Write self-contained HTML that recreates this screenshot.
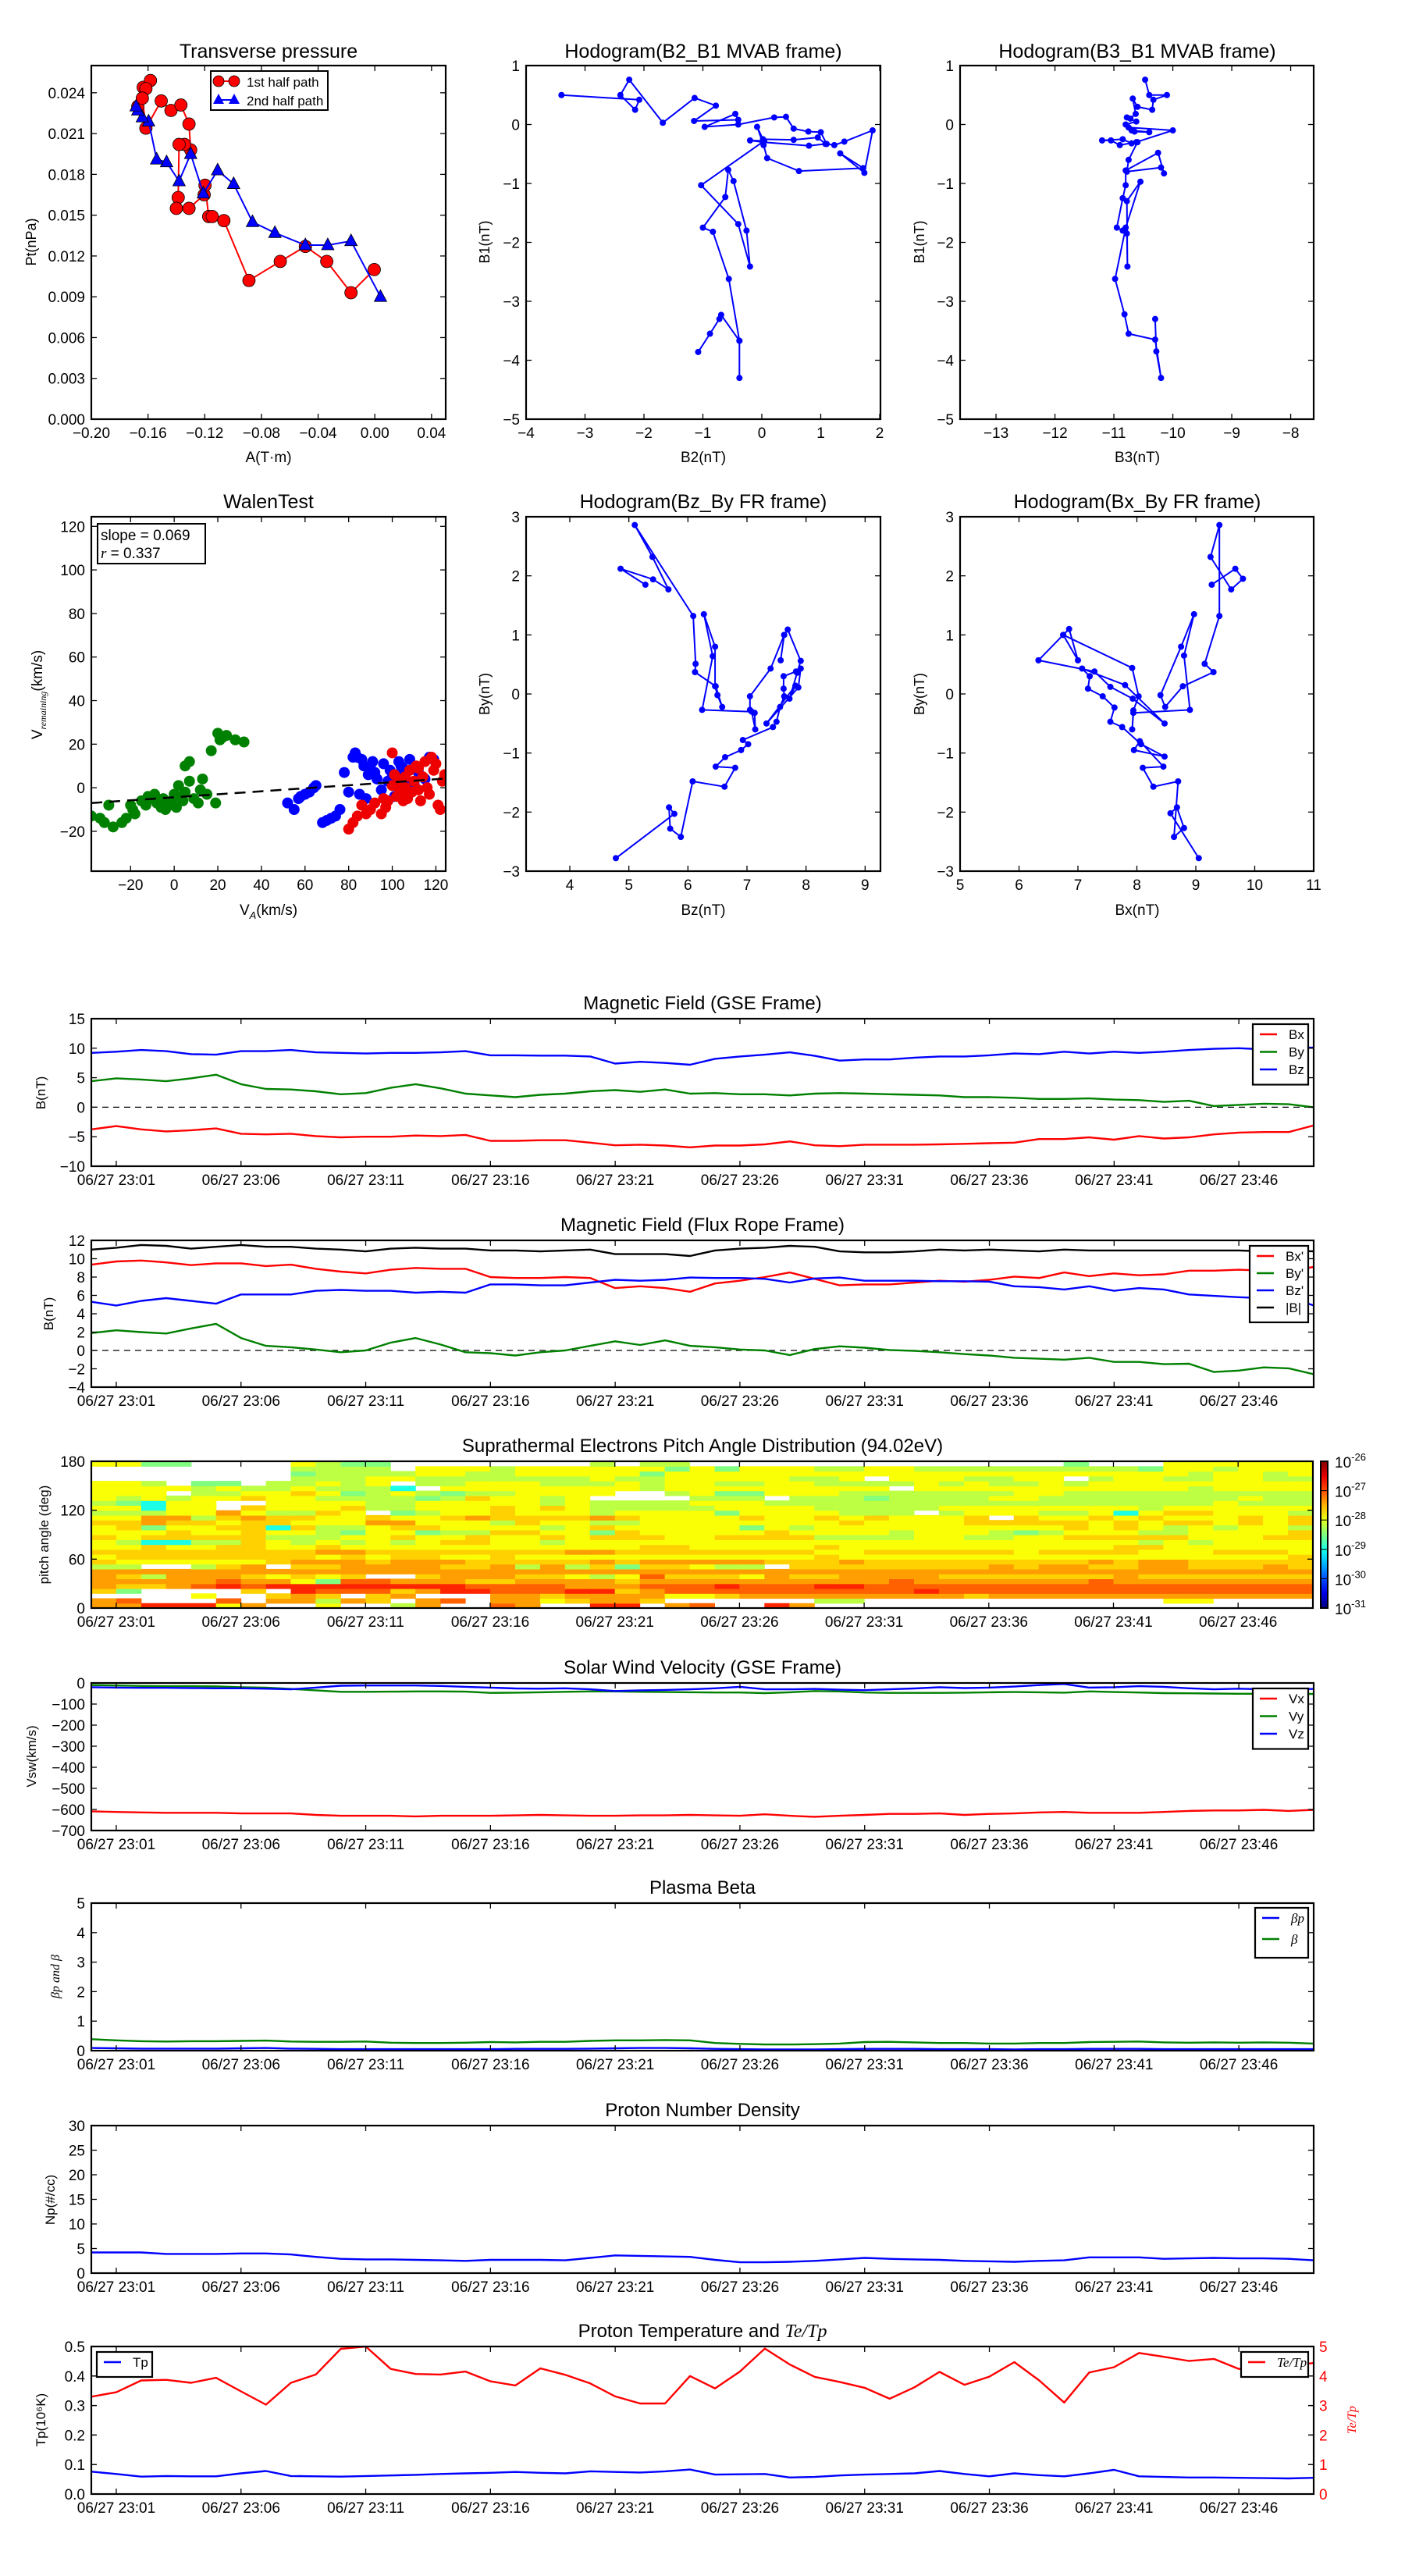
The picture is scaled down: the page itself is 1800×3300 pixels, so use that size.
<!DOCTYPE html>
<html><head><meta charset="utf-8"><title>Flux rope analysis</title>
<style>
html,body{margin:0;padding:0;background:#fff;}
svg{display:block;font-family:"Liberation Sans",sans-serif;}
</style></head>
<body>
<svg id="fig" xmlns="http://www.w3.org/2000/svg" width="1800" height="3300" viewBox="0 0 1800 3300">
<rect x="0" y="0" width="1800" height="3300" fill="#fff"/>
</svg>
<script>
// ---------------- DATA ----------------
// Transverse pressure
const ptRedA = [-0.1672,-0.1634,-0.1583,-0.1615,-0.1640,-0.1615,-0.1507,-0.1438,-0.1368,-0.1311,-0.1299,-0.1343,-0.1381,-0.1387,-0.1400,-0.1311,-0.1204,-0.1198,-0.1172,-0.1147,-0.1065,-0.0888,-0.0667,-0.0490,-0.0339,-0.0168,-0.0004];
const ptRedP = [0.0230,0.0244,0.0249,0.0243,0.0236,0.0214,0.0234,0.0227,0.0231,0.0217,0.0198,0.0202,0.0202,0.0163,0.0155,0.0155,0.0165,0.0172,0.0149,0.0149,0.0146,0.0102,0.0116,0.0127,0.0116,0.0093,0.0110];
const ptBlueA = [0.0040,-0.0168,-0.0332,-0.0490,-0.0705,-0.0863,-0.0996,-0.1109,-0.1210,-0.1299,-0.1381,-0.1469,-0.1539,-0.1596,-0.1640,-0.1672,-0.1684];
const ptBlueP = [0.0090,0.0131,0.0128,0.0128,0.0137,0.0145,0.0173,0.0183,0.0166,0.0195,0.0175,0.0189,0.0191,0.0219,0.0222,0.0227,0.0230];
// Hodogram B2-B1
const hB2 = [-3.4,-2.08,-2.15,-2.4,-2.25,-1.68,-1.14,-0.78,-1.15,-0.4,-0.45,-0.97,-0.4,0.21,0.41,0.54,0.79,1.0,1.1,1.23,1.4,1.88,1.74,1.33,1.72,0.63,0.09,0.03,-0.08,0.02,0.54,0.95,1.08,0.8,0.02,-0.2,0.04,-1.03,-0.4,-0.2,-0.26,-0.48,-0.57,-0.62,-1.0,-0.83,-0.56,-0.38,-0.38,-0.38,-0.69,-0.72,-0.88,-1.08];
const hB1 = [0.5,0.42,0.25,0.5,0.76,0.03,0.45,0.32,0.06,0.08,0.18,-0.04,0.0,0.12,0.13,-0.07,-0.12,-0.13,-0.33,-0.35,-0.29,-0.1,-0.82,-0.49,-0.74,-0.79,-0.57,-0.35,-0.04,-0.25,-0.26,-0.22,-0.33,-0.36,-0.3,-0.27,-0.28,-1.03,-1.69,-2.41,-1.8,-0.96,-0.77,-1.23,-1.75,-1.82,-2.62,-3.67,-4.3,-3.67,-3.23,-3.3,-3.55,-3.86];
// Hodogram B3-B1
const hB3 = [-10.47,-10.4,-10.1,-10.33,-10.35,-10.6,-10.68,-10.63,-10.72,-10.78,-10.62,-10.8,-10.7,-10.4,-10.65,-10.75,-10.0,-10.62,-10.9,-11.05,-11.2,-10.85,-10.7,-10.6,-10.75,-10.78,-10.2,-10.15,-10.25,-10.8,-10.8,-10.85,-10.95,-10.85,-10.78,-10.77,-10.78,-10.55,-10.8,-10.98,-10.82,-10.75,-10.3,-10.2,-10.28,-10.3];
const hB1b = [0.76,0.5,0.5,0.42,0.25,0.3,0.44,0.18,0.1,0.12,0.05,0.0,-0.1,-0.13,-0.12,-0.05,-0.1,-0.3,-0.35,-0.27,-0.27,-0.25,-0.32,-0.3,-0.6,-0.8,-0.73,-0.83,-0.48,-0.78,-1.03,-1.25,-1.75,-1.8,-1.85,-2.41,-1.3,-0.97,-1.75,-2.62,-3.22,-3.55,-3.65,-4.3,-3.85,-3.3];
// Walen test
const walGreenX = [-38,-34,-32,-30,-28,-24,-22,-20,-19,-18,-15,-13,-12,-10,-9,-8,-6,-5,-4,-2,-1,0,1,2,3,4,5,5,7,7,9,11,12,13,15,17,19,20,21,22,24,28,32];
const walGreenY = [-13,-14,-16,-8,-18,-16,-14,-8,-10,-12,-6,-8,-4,-5,-3,-7,-9,-5,-10,-8,-6,-3,-9,1,-4,-6,-2,10,12,3,-5,-7,-1,4,-3,17,-7,25,22,23,24,22,21];
const walBlueX = [52,55,57,58,60,62,64,65,68,70,72,74,76,78,80,82,83,84,85,86,87,88,89,90,91,92,93,95,96,98,99,100,101,102,103,104,105,107,108,110,112,115,117,119];
const walBlueY = [-7,-10,-5,-4,-3,-2,0,1,-16,-15,-14,-13,-10,7,-2,14,16,14,-3,13,10,-5,6,9,12,7,4,-1,11,3,8,5,-4,6,12,10,9,3,13,2,7,4,14,13];
const walRedX = [80,82,84,86,88,90,92,95,96,97,98,100,100,101,102,103,104,105,106,107,108,109,110,111,112,113,114,115,116,117,118,119,120,121,122,123,124,112,106,103];
const walRedY = [-19,-16,-13,-8,-12,-10,-7,-12,-5,-9,-6,1,16,6,-4,4,-2,-6,0,-5,8,-2,3,10,-1,-6,5,12,0,-3,14,8,11,-8,-10,3,6,9,5,0];
const walFit = [0.069, -4.4]; // slope, intercept
// Hodogram Bz-By (FR)
const fzBz = [4.78,5.77,5.68,5.7,5.88,6.08,6.62,6.8,6.47,6.63,6.9,7.02,6.93,7.44,7.5,7.56,7.63,7.62,7.62,7.83,7.91,7.87,7.33,7.82,7.72,7.85,7.91,7.69,7.63,7.57,7.63,7.4,7.05,7.05,7.13,7.14,7.08,6.24,6.42,6.27,6.46,6.46,6.5,6.58,6.47,6.12,6.13,6.09,5.1,5.4,5.67,5.41,4.86,5.28];
const fzBy = [-2.78,-2.03,-1.92,-2.28,-2.42,-1.48,-1.57,-1.25,-1.23,-1.07,-0.95,-0.85,-0.78,-0.56,-0.47,-0.22,-0.04,0.09,0.3,0.38,0.43,0.11,-0.5,0.14,-0.08,0.36,0.56,1.09,1.0,0.57,1.0,0.43,-0.04,-0.27,-0.32,-0.6,-0.3,-0.27,0.64,1.35,0.8,0.13,-0.02,-0.22,0.13,0.37,0.51,1.32,2.86,2.32,1.77,1.94,2.12,1.85];
// Hodogram Bx-By (FR)
const fxBx = [9.05,8.57,8.68,8.8,8.63,8.7,8.28,8.1,8.45,8.05,7.95,8.47,8.07,7.75,7.55,7.62,7.42,7.17,7.2,7.07,7.8,8.47,7.93,7.55,7.28,6.33,6.75,6.85,7.0,6.75,7.92,8.03,7.94,7.92,7.94,8.9,8.8,8.97,8.75,8.4,8.48,8.78,9.3,9.15,9.4,9.4,9.25,9.6,9.8,9.67,9.27];
const fxBy = [-2.78,-2.02,-1.92,-2.27,-2.42,-1.48,-1.57,-1.25,-1.23,-0.8,-0.95,-1.06,-0.85,-0.56,-0.47,-0.23,-0.04,0.09,0.3,0.43,0.15,-0.5,-0.08,0.12,0.38,0.57,1.0,1.1,0.57,1.0,0.44,-0.04,-0.28,-0.6,-0.32,-0.27,0.65,1.35,0.8,-0.02,-0.22,0.13,0.37,0.51,1.32,2.86,2.32,1.77,1.95,2.12,1.85];

// Time series (one sample per minute, 23:00 .. 23:49)
const timeTickMin = [1,6,11,16,21,26,31,36,41,46];
const timeTickLbl = ["06/27 23:01","06/27 23:06","06/27 23:11","06/27 23:16","06/27 23:21","06/27 23:26","06/27 23:31","06/27 23:36","06/27 23:41","06/27 23:46"];
const gseBx = [-3.75,-3.2,-3.75,-4.1,-3.9,-3.6,-4.5,-4.6,-4.5,-4.9,-5.1,-5.0,-5.0,-4.8,-4.9,-4.7,-5.7,-5.7,-5.6,-5.6,-6.0,-6.45,-6.35,-6.5,-6.8,-6.5,-6.5,-6.3,-5.8,-6.45,-6.6,-6.35,-6.35,-6.35,-6.3,-6.2,-6.1,-6.0,-5.4,-5.4,-5.1,-5.5,-4.9,-5.3,-5.1,-4.6,-4.3,-4.2,-4.2,-3.1];
const gseBy = [4.4,4.9,4.7,4.4,4.9,5.5,3.9,3.1,3.0,2.7,2.2,2.4,3.3,3.9,3.2,2.3,2.0,1.7,2.1,2.3,2.7,2.9,2.6,3.0,2.3,2.4,2.2,2.2,2.0,2.3,2.4,2.3,2.2,2.1,2.0,1.7,1.7,1.6,1.4,1.4,1.5,1.3,1.2,0.9,1.1,0.2,0.4,0.6,0.5,0.0];
const gseBz = [9.2,9.4,9.7,9.5,9.0,8.9,9.5,9.5,9.7,9.3,9.2,9.1,9.2,9.2,9.3,9.5,8.8,8.8,8.75,8.75,8.6,7.4,7.7,7.5,7.2,8.2,8.6,8.9,9.3,8.7,7.9,8.1,8.1,8.4,8.6,8.6,8.8,9.1,9.0,9.4,9.1,9.4,9.2,9.4,9.7,9.9,10.0,9.8,10.0,10.1];
const frBx = [9.35,9.7,9.8,9.6,9.3,9.5,9.5,9.2,9.35,8.9,8.6,8.4,8.8,9.0,8.9,8.9,8.0,7.9,7.9,8.0,7.9,6.8,7.0,6.8,6.4,7.3,7.6,8.0,8.5,7.8,7.1,7.2,7.2,7.4,7.6,7.5,7.7,8.05,7.9,8.5,8.1,8.4,8.2,8.3,8.7,8.7,8.8,8.7,8.7,9.1];
const frBy = [1.9,2.2,2.0,1.85,2.4,2.9,1.35,0.5,0.35,0.1,-0.2,0.0,0.85,1.35,0.65,-0.2,-0.3,-0.55,-0.2,0.0,0.5,1.0,0.6,1.1,0.5,0.35,0.1,0.0,-0.5,0.15,0.45,0.3,0.05,-0.05,-0.2,-0.4,-0.55,-0.8,-0.9,-1.0,-0.8,-1.25,-1.25,-1.5,-1.45,-2.35,-2.2,-1.85,-1.95,-2.6];
const frBz = [5.3,4.9,5.4,5.7,5.4,5.1,6.1,6.1,6.1,6.5,6.6,6.5,6.5,6.3,6.4,6.3,7.2,7.2,7.1,7.1,7.4,7.7,7.6,7.7,7.95,7.9,7.9,7.8,7.4,7.85,7.95,7.6,7.6,7.6,7.55,7.55,7.5,7.0,6.9,6.65,7.0,6.5,6.8,6.65,6.1,5.95,5.8,5.7,5.8,4.9];
const frBt = [11.0,11.2,11.5,11.4,11.1,11.3,11.5,11.3,11.3,11.1,11.0,10.8,11.1,11.2,11.1,11.1,10.9,10.9,10.8,10.9,11.0,10.5,10.5,10.5,10.3,10.9,11.1,11.2,11.4,11.3,10.8,10.7,10.7,10.8,11.0,10.9,11.0,10.9,10.8,11.0,10.9,10.9,10.9,10.9,10.9,10.9,10.9,10.8,10.9,10.8];
const swVx = [-609,-612,-614,-616,-616,-616,-619,-619,-619,-626,-630,-630,-630,-633,-630,-630,-630,-628,-626,-628,-630,-630,-628,-628,-626,-628,-630,-623,-630,-635,-630,-626,-621,-621,-619,-626,-621,-619,-614,-612,-616,-616,-616,-612,-607,-605,-605,-602,-607,-602];
const swVy = [-10,-12,-14,-15,-15,-16,-20,-22,-28,-35,-42,-42,-41,-40,-40,-41,-47,-46,-44,-42,-40,-40,-42,-43,-44,-45,-45,-48,-44,-38,-40,-45,-47,-47,-47,-46,-44,-43,-44,-46,-40,-43,-45,-48,-49,-50,-51,-51,-52,-52];
const swVz = [-20,-22,-23,-23,-24,-25,-25,-27,-30,-22,-13,-12,-12,-12,-14,-18,-22,-26,-27,-25,-30,-38,-35,-33,-30,-25,-18,-30,-30,-28,-32,-34,-30,-26,-20,-24,-22,-17,-10,-5,-22,-20,-15,-18,-25,-30,-27,-30,-32,-28];
const betaP = [0.09,0.08,0.07,0.07,0.07,0.07,0.08,0.09,0.07,0.06,0.05,0.05,0.05,0.05,0.05,0.05,0.05,0.06,0.06,0.06,0.07,0.08,0.09,0.09,0.08,0.06,0.05,0.04,0.04,0.04,0.05,0.06,0.06,0.06,0.05,0.05,0.05,0.04,0.05,0.05,0.06,0.06,0.06,0.05,0.05,0.05,0.05,0.05,0.05,0.05];
const betaT = [0.39,0.35,0.32,0.31,0.32,0.32,0.33,0.34,0.31,0.30,0.30,0.31,0.27,0.26,0.26,0.27,0.29,0.28,0.30,0.30,0.33,0.35,0.35,0.36,0.35,0.26,0.23,0.21,0.21,0.22,0.24,0.29,0.30,0.28,0.26,0.26,0.24,0.24,0.26,0.26,0.29,0.30,0.31,0.28,0.27,0.28,0.27,0.28,0.27,0.24];
const np = [4.2,4.2,4.2,3.9,3.9,3.9,4.0,4.0,3.8,3.3,2.9,2.8,2.8,2.7,2.6,2.5,2.7,2.7,2.7,2.6,3.1,3.6,3.5,3.4,3.3,2.7,2.2,2.2,2.3,2.5,2.8,3.1,2.9,2.8,2.7,2.5,2.4,2.3,2.5,2.6,3.2,3.2,3.2,2.9,3.0,3.1,3.0,3.0,2.9,2.6];
const tp = [0.076,0.068,0.059,0.061,0.06,0.06,0.07,0.078,0.061,0.06,0.059,0.061,0.063,0.065,0.068,0.07,0.072,0.075,0.072,0.07,0.077,0.075,0.073,0.077,0.083,0.066,0.067,0.068,0.056,0.058,0.063,0.066,0.068,0.07,0.078,0.068,0.06,0.07,0.064,0.06,0.07,0.082,0.06,0.058,0.056,0.056,0.055,0.054,0.053,0.055];
const teTp = [3.3,3.45,3.85,3.87,3.77,3.94,3.48,3.03,3.77,4.05,4.92,5.0,4.24,4.07,4.05,4.15,3.82,3.68,4.26,4.04,3.75,3.31,3.07,3.07,4.0,3.58,4.15,4.93,4.39,3.97,3.8,3.6,3.23,3.62,4.14,3.7,3.98,4.47,3.85,3.1,4.12,4.3,4.78,4.65,4.51,4.58,4.24,4.27,4.36,4.44];
// Pitch angle distribution: rows = 6 deg bins (0..180, bottom to top), cols = minutes; code 0 = no data, 1..8 = flux level
const padRows = [
"6688846004003600760088067008600000000000000000000",
"6700070663650670664566500000033000000000000440000",
"0000400565056000665666644566666666656666666666666",
"5200005087775688777885677777777778777777777777777",
"6556787888888887777666777877788777777777777777777",
"6666676642776665566665666666666676666666766666666",
"6536665454500566655434755546556666555555565555555",
"6666666666666666666666666666666666666666666666666",
"3300356055666655636352554330555555556566556655565",
"5444444566656665555565666665556555555555656655555",
"4555555554545544544444444444454444444444444444445",
"5555555556655555555665555555544555555455554445554",
"4454455445444444444444554444454444444444455444444",
"4311335434343455443444444444444444444444443434444",
"5455555333445445445455544555533334433445555544455",
"4445445443244233554425444445444434443234443344445",
"4524455153345544443454444424344444444445454343443",
"5565545544466444354433444444445444455555454554545",
"4466356554454456555565444454454544450544545444545",
"3334464335402344544434444244443330344433414554443",
"4414405444533444545433333444433333444444443444444",
"3214400444433444443433334443333333333333333334333",
"4343445443333235443400003330333233334433333333433",
"4440334454234323344440034224443333333443333333333",
"4444343343331044444444344444444404444444444434444",
"4430220334340334443334344334433334343343444444444",
"0000000033344333333343344444334044433440344334433",
"0000000023333443344444244444444444444444444434434",
"0000000033330444344444424244433443333333332443444",
"4422000043220000000030330000000000000002000444444"];
const padLevelLog = [null,-29.0,-28.5,-28.2,-27.9,-27.65,-27.4,-27.1,-26.8];

// ---------------- HELPERS ----------------
const NS = 'http://www.w3.org/2000/svg';
const svg = document.getElementById('fig');
function mk(tag, attrs, name, parent) {
  const e = document.createElementNS(NS, tag);
  for (const k in attrs) e.setAttribute(k, attrs[k]);
  
  
  (parent || svg).appendChild(e);
  return e;
}
function txt(x, y, s, name, opt, parent) {
  opt = opt || {};
  const a = {x: x, y: y, 'font-size': opt.size || 19, fill: opt.fill || '#000', 'text-anchor': opt.anchor || 'middle'};
  if (opt.rot) a.transform = 'rotate(' + opt.rot + ' ' + x + ' ' + y + ')';
  if (opt.italic) a['font-style'] = 'italic';
  if (opt.family) a['font-family'] = opt.family;
  const t = mk('text', a, name, parent);
  t.textContent = s;
  return t;
}
let clipN = 0;
function axes(x0, y0, x1, y1, xmin, xmax, ymin, ymax, name) {
  const g = mk('g', {}, name);
  const id = 'clip' + (clipN++);
  const cp = mk('clipPath', {id: id}, name + '-clip', g);
  mk('rect', {x: x0, y: y0, width: x1 - x0, height: y1 - y0}, name + '-clip-rect', cp);
  const data = mk('g', {'clip-path': 'url(#' + id + ')'}, name + '-plot-area', g);
  return {x0, y0, x1, y1, g, data, name,
    sx: v => x0 + (v - xmin) / (xmax - xmin) * (x1 - x0),
    sy: v => y1 - (v - ymin) / (ymax - ymin) * (y1 - y0)};
}
function frame(ax) {
  mk('rect', {x: ax.x0, y: ax.y0, width: ax.x1 - ax.x0, height: ax.y1 - ax.y0, fill: 'none', stroke: '#000', 'stroke-width': 2.2}, ax.name + '-frame', ax.g);
}
function xticks(ax, vals, labels, nameBase) {
  vals.forEach((v, i) => {
    const x = ax.sx(v);
    mk('line', {x1: x, y1: ax.y1, x2: x, y2: ax.y1 - 7, stroke: '#000', 'stroke-width': 1.3}, nameBase + '-tick', ax.g);
    mk('line', {x1: x, y1: ax.y0, x2: x, y2: ax.y0 + 7, stroke: '#000', 'stroke-width': 1.3}, nameBase + '-tick-top', ax.g);
    txt(x, ax.y1 + 24, labels[i], nameBase + '-tick-label', {}, ax.g);
  });
}
function yticks(ax, vals, labels, nameBase, right, color) {
  vals.forEach((v, i) => {
    const y = ax.sy(v);
    mk('line', {x1: ax.x0, y1: y, x2: ax.x0 + 7, y2: y, stroke: '#000', 'stroke-width': 1.3}, nameBase + '-tick', ax.g);
    mk('line', {x1: ax.x1, y1: y, x2: ax.x1 - 7, y2: y, stroke: '#000', 'stroke-width': 1.3}, nameBase + '-tick-right', ax.g);
    if (labels) {
      if (right) txt(ax.x1 + 7, y + 7, labels[i], nameBase + '-tick-label', {anchor: 'start', fill: color || '#000'}, ax.g);
      else txt(ax.x0 - 8, y + 7, labels[i], nameBase + '-tick-label', {anchor: 'end'}, ax.g);
    }
  });
}
function fmt(v, d) { const s = Math.abs(v).toFixed(d); return (v < 0 ? '\u2212' : '') + s; }
function polyline(ax, xs, ys, color, name, w) {
  const pts = xs.map((x, i) => ax.sx(x).toFixed(1) + ',' + ax.sy(ys[i]).toFixed(1)).join(' ');
  return mk('polyline', {points: pts, fill: 'none', stroke: color, 'stroke-width': w || 2.4, 'stroke-linejoin': 'round'}, name, ax.data);
}
function dots(ax, xs, ys, color, r, name) {
  xs.forEach((x, i) => mk('circle', {cx: ax.sx(x), cy: ax.sy(ys[i]), r: r, fill: color, stroke: color === '#ff0000' ? '#000' : 'none', 'stroke-width': 0.8}, name, ax.data));
}
function range(a, b, s) { const r = []; for (let v = a; v <= b + 1e-9; v += s) r.push(+v.toFixed(6)); return r; }
function jet(t) {
  const c = v => Math.round(255 * Math.max(0, Math.min(1, v)));
  return 'rgb(' + c(1.5 - Math.abs(4 * t - 3)) + ',' + c(1.5 - Math.abs(4 * t - 2)) + ',' + c(1.5 - Math.abs(4 * t - 1)) + ')';
}

// ---------------- TOP ROW ----------------
// Transverse pressure
(function () {
  const ax = axes(117, 84, 571, 537, -0.2, 0.05, 0, 0.026, 'transverse-pressure-plot');
  polyline(ax, ptRedA, ptRedP, '#ff0000', 'first-half-path-line', 2);
  dots(ax, ptRedA, ptRedP, '#ff0000', 8, 'first-half-point');
  polyline(ax, ptBlueA, ptBlueP, '#0000ff', 'second-half-path-line', 2);
  ptBlueA.forEach((a, i) => {
    const x = ax.sx(a), y = ax.sy(ptBlueP[i]);
    mk('polygon', {points: x + ',' + (y - 9) + ' ' + (x - 8) + ',' + (y + 6) + ' ' + (x + 8) + ',' + (y + 6), fill: '#0000ff', stroke: '#000', 'stroke-width': 0.8}, 'second-half-point', ax.data);
  });
  frame(ax);
  const xv = range(-0.2, 0.04, 0.04);
  xticks(ax, xv, xv.map(v => fmt(v, 2)), 'pt-x');
  const yv = range(0, 0.024, 0.003);
  yticks(ax, yv, yv.map(v => v.toFixed(3)), 'pt-y');
  txt(344, 74, 'Transverse pressure', 'transverse-pressure-title', {size: 25});
  txt(344, 592, 'A(T\u00b7m)', 'pt-x-axis-title', {size: 19});
  txt(46, 310, 'Pt(nPa)', 'pt-y-axis-title', {size: 18, rot: -90});
  // legend
  const lg = mk('g', {}, 'pt-legend');
  mk('rect', {x: 270, y: 91, width: 150, height: 50, fill: '#fff', stroke: '#000', 'stroke-width': 2}, 'pt-legend-box', lg);
  mk('line', {x1: 280, y1: 104, x2: 300, y2: 104, stroke: '#ff0000', 'stroke-width': 2}, 'legend-line-1st', lg);
  mk('circle', {cx: 280, cy: 104, r: 7, fill: '#ff0000', stroke: '#000', 'stroke-width': 0.8}, 'legend-marker-1st', lg);
  mk('circle', {cx: 300, cy: 104, r: 7, fill: '#ff0000', stroke: '#000', 'stroke-width': 0.8}, 'legend-marker-1st', lg);
  txt(316, 111, '1st half path', 'legend-entry-1st-half', {size: 17, anchor: 'start'}, lg);
  mk('line', {x1: 280, y1: 128, x2: 300, y2: 128, stroke: '#0000ff', 'stroke-width': 2}, 'legend-line-2nd', lg);
  mk('polygon', {points: '280,120 273,133 287,133', fill: '#0000ff'}, 'legend-marker-2nd', lg);
  mk('polygon', {points: '300,120 293,133 307,133', fill: '#0000ff'}, 'legend-marker-2nd', lg);
  txt(316, 135, '2nd half path', 'legend-entry-2nd-half', {size: 17, anchor: 'start'}, lg);
})();

// Hodogram B2-B1
(function () {
  const ax = axes(674, 84, 1128, 537, -4, 2.9, -5, 1, 'hodogram-b2-b1-plot');
  ax.sx = v => 674 + (v + 4) / 6.9 * 454;
  const sx2 = v => 674 + (v + 4) * 75.5;
  ax.sx = sx2;
  polyline(ax, hB2, hB1, '#0000ff', 'b2-b1-path', 2);
  dots(ax, hB2, hB1, '#0000ff', 4, 'b2-b1-point');
  frame(ax);
  const xv = range(-4, 2, 1);
  xticks(ax, xv, xv.map(v => fmt(v, 0)), 'b2-x');
  const yv = range(-5, 1, 1);
  yticks(ax, yv, yv.map(v => fmt(v, 0)), 'b1-y');
  txt(901, 74, 'Hodogram(B2_B1 MVAB frame)', 'hodogram-b2-b1-title', {size: 25});
  txt(901, 592, 'B2(nT)', 'b2-x-axis-title');
  txt(627, 310, 'B1(nT)', 'b1-y-axis-title', {size: 18, rot: -90});
})();

// Hodogram B3-B1
(function () {
  const ax = axes(1230, 84, 1683, 537, -13.61, -7.61, -5, 1, 'hodogram-b3-b1-plot');
  polyline(ax, hB3, hB1b, '#0000ff', 'b3-b1-path', 2);
  dots(ax, hB3, hB1b, '#0000ff', 4, 'b3-b1-point');
  frame(ax);
  const xv = range(-13, -8, 1);
  xticks(ax, xv, xv.map(v => fmt(v, 0)), 'b3-x');
  const yv = range(-5, 1, 1);
  yticks(ax, yv, yv.map(v => fmt(v, 0)), 'b1b-y');
  txt(1457, 74, 'Hodogram(B3_B1 MVAB frame)', 'hodogram-b3-b1-title', {size: 25});
  txt(1457, 592, 'B3(nT)', 'b3-x-axis-title');
  txt(1184, 310, 'B1(nT)', 'b1b-y-axis-title', {size: 18, rot: -90});
})();

// ---------------- SECOND ROW ----------------
(function () {
  const ax = axes(117, 662, 571, 1116, -38, 124.5, -38.3, 124.4, 'walen-test-plot');
  dots(ax, walGreenX, walGreenY, '#008000', 7, 'walen-green-point');
  dots(ax, walBlueX, walBlueY, '#0000ff', 7, 'walen-blue-point');
  dots(ax, walRedX, walRedY, '#ee0000', 7, 'walen-red-point');
  const fx = [-38, 124.5];
  const fy = fx.map(x => walFit[0] * x + walFit[1]);
  const fl = polyline(ax, fx, fy, '#000', 'walen-fit-line', 2.5);
  fl.setAttribute('stroke-dasharray', '14,9');
  frame(ax);
  const xv = range(-20, 120, 20);
  xticks(ax, xv, xv.map(v => fmt(v, 0)), 'walen-x');
  const yv = range(-20, 120, 20);
  yticks(ax, yv, yv.map(v => fmt(v, 0)), 'walen-y');
  txt(344, 651, 'WalenTest', 'walen-test-title', {size: 25});
  const xl = txt(344, 1172, 'V', 'walen-x-axis-title', {size: 19});
  const s1 = document.createElementNS(NS, 'tspan'); s1.setAttribute('font-size', 13); s1.setAttribute('font-style', 'italic'); s1.setAttribute('dy', 5); s1.textContent = 'A'; xl.appendChild(s1);
  const s2 = document.createElementNS(NS, 'tspan'); s2.setAttribute('dy', -5); s2.textContent = '(km/s)'; xl.appendChild(s2);
  const yl = txt(54, 890, 'V', 'walen-y-axis-title', {size: 19, rot: -90});
  const s3 = document.createElementNS(NS, 'tspan'); s3.setAttribute('font-size', 12); s3.setAttribute('font-style', 'italic'); s3.setAttribute('font-family', 'Liberation Serif, serif'); s3.setAttribute('dy', 5); s3.textContent = 'remaining'; yl.appendChild(s3);
  const s4 = document.createElementNS(NS, 'tspan'); s4.setAttribute('dy', -5); s4.textContent = '(km/s)'; yl.appendChild(s4);
  const bx = mk('g', {}, 'walen-stats-box');
  mk('rect', {x: 125, y: 671, width: 138, height: 51, fill: '#fff', stroke: '#000', 'stroke-width': 2}, 'walen-stats-frame', bx);
  txt(129, 692, 'slope = 0.069', 'walen-slope-text', {size: 19, anchor: 'start'}, bx);
  const rt = txt(129, 715, 'r', 'walen-r-text', {size: 19, anchor: 'start', italic: true, family: 'Liberation Serif, serif'}, bx);
  const s5 = document.createElementNS(NS, 'tspan'); s5.setAttribute('font-style', 'normal'); s5.setAttribute('font-family', 'Liberation Sans, sans-serif'); s5.textContent = ' = 0.337'; rt.appendChild(s5);
})();

(function () {
  const ax = axes(674, 662, 1128, 1116, 3.26, 9.26, -3, 3, 'hodogram-bz-by-plot');
  polyline(ax, fzBz, fzBy, '#0000ff', 'bz-by-path', 2);
  dots(ax, fzBz, fzBy, '#0000ff', 4, 'bz-by-point');
  frame(ax);
  const xv = range(4, 9, 1);
  xticks(ax, xv, xv.map(v => fmt(v, 0)), 'bz-x');
  const yv = range(-3, 3, 1);
  yticks(ax, yv, yv.map(v => fmt(v, 0)), 'by-y');
  txt(901, 651, 'Hodogram(Bz_By FR frame)', 'hodogram-bz-by-title', {size: 25});
  txt(901, 1172, 'Bz(nT)', 'bz-x-axis-title');
  txt(627, 889, 'By(nT)', 'by-y-axis-title', {size: 18, rot: -90});
})();

(function () {
  const ax = axes(1230, 662, 1683, 1116, 5, 11, -3, 3, 'hodogram-bx-by-plot');
  polyline(ax, fxBx, fxBy, '#0000ff', 'bx-by-path', 2);
  dots(ax, fxBx, fxBy, '#0000ff', 4, 'bx-by-point');
  frame(ax);
  const xv = range(5, 11, 1);
  xticks(ax, xv, xv.map(v => fmt(v, 0)), 'bx-x');
  const yv = range(-3, 3, 1);
  yticks(ax, yv, yv.map(v => fmt(v, 0)), 'by2-y');
  txt(1457, 651, 'Hodogram(Bx_By FR frame)', 'hodogram-bx-by-title', {size: 25});
  txt(1457, 1172, 'Bx(nT)', 'bx-x-axis-title');
  txt(1184, 889, 'By(nT)', 'by2-y-axis-title', {size: 18, rot: -90});
})();

// ---------------- TIME SERIES ----------------
const minutes = gseBx.map((_, i) => i);
function timePanel(y0, y1, ymin, ymax, name, title) {
  const ax = axes(117, y0, 1683, y1, 0, 49, ymin, ymax, name);
  txt(900, y0 - 12, title, name + '-title', {size: 24});
  return ax;
}
function timeAxis(ax, nameBase) { xticks(ax, timeTickMin, timeTickLbl, nameBase); }
function legend(x, y, w, entries, nameBase, gap) {
  const g = mk('g', {}, nameBase);
  const h = entries.length * gap + 10;
  mk('rect', {x: x, y: y, width: w, height: h, fill: '#fff', stroke: '#000', 'stroke-width': 2.2}, nameBase + '-box', g);
  entries.forEach((e, i) => {
    const yy = y + 13 + i * gap;
    mk('line', {x1: x + 9, y1: yy, x2: x + 31, y2: yy, stroke: e[1], 'stroke-width': 2.4}, nameBase + '-swatch', g);
    txt(x + 46, yy + 6, e[0], nameBase + '-entry', {size: 17, anchor: 'start', italic: !!e[2], family: e[2] ? 'Liberation Serif, serif' : undefined}, g);
  });
  return g;
}
function zeroLine(ax, name) {
  mk('line', {x1: ax.x0, y1: ax.sy(0), x2: ax.x1, y2: ax.sy(0), stroke: '#000', 'stroke-width': 1.3, 'stroke-dasharray': '8,6'}, name, ax.data);
}

// GSE magnetic field
(function () {
  const ax = timePanel(1305, 1494, -10, 15, 'magnetic-field-gse-plot', 'Magnetic Field (GSE Frame)');
  zeroLine(ax, 'gse-zero-line');
  polyline(ax, minutes, gseBx, '#ff0000', 'gse-bx-line');
  polyline(ax, minutes, gseBy, '#008000', 'gse-by-line');
  polyline(ax, minutes, gseBz, '#0000ff', 'gse-bz-line');
  frame(ax); timeAxis(ax, 'gse-x');
  const yv = range(-10, 15, 5);
  yticks(ax, yv, yv.map(v => fmt(v, 0)), 'gse-y');
  txt(58, 1400, 'B(nT)', 'gse-y-axis-title', {size: 17, rot: -90});
  legend(1605, 1312, 71, [['Bx', '#ff0000'], ['By', '#008000'], ['Bz', '#0000ff']], 'gse-legend', 22.5);
})();

// Flux rope frame
(function () {
  const ax = timePanel(1589, 1777, -4, 12, 'magnetic-field-fr-plot', 'Magnetic Field (Flux Rope Frame)');
  zeroLine(ax, 'fr-zero-line');
  polyline(ax, minutes, frBx, '#ff0000', 'fr-bx-line');
  polyline(ax, minutes, frBy, '#008000', 'fr-by-line');
  polyline(ax, minutes, frBz, '#0000ff', 'fr-bz-line');
  polyline(ax, minutes, frBt, '#000000', 'fr-bt-line');
  frame(ax); timeAxis(ax, 'fr-x');
  const yv = range(-4, 12, 2);
  yticks(ax, yv, yv.map(v => fmt(v, 0)), 'fr-y');
  txt(68, 1683, 'B(nT)', 'fr-y-axis-title', {size: 17, rot: -90});
  legend(1601, 1596, 75, [["Bx'", '#ff0000'], ["By'", '#008000'], ["Bz'", '#0000ff'], ['|B|', '#000']], 'fr-legend', 22);
})();

// Pitch angle distribution
(function () {
  const ax = axes(117, 1872, 1682, 2060, 0, 49, 0, 180, 'pitch-angle-plot');
  txt(900, 1860, 'Suprathermal Electrons Pitch Angle Distribution (94.02eV)', 'pitch-angle-title', {size: 24});
  const nb = padRows.length, bw = 180 / nb;
  padRows.forEach((row, r) => {
    const s = row.padEnd(49, '0').slice(0, 49);
    for (let c = 0; c < 49; c++) {
      const code = +s[c];
      if (!code) continue;
      const t = (padLevelLog[code] + 31) / 5;
      const x = ax.sx(c), x2 = ax.sx(c + 1), y = ax.sy((r + 1) * bw), y2 = ax.sy(r * bw);
      mk('rect', {x: x.toFixed(1), y: y.toFixed(1), width: (x2 - x + 0.6).toFixed(1), height: (y2 - y + 0.6).toFixed(1), fill: jet(t)}, 'pad-cell', ax.data);
    }
  });
  frame(ax); timeAxis(ax, 'pad-x');
  yticks(ax, [0, 60, 120, 180], ['0', '60', '120', '180'], 'pad-y');
  txt(62, 1966, 'pitch angle (deg)', 'pad-y-axis-title', {size: 17, rot: -90});
  // colorbar
  const defs = mk('defs', {}, 'colorbar-defs');
  const lg = mk('linearGradient', {id: 'jetgrad', x1: 0, y1: 1, x2: 0, y2: 0}, 'colorbar-gradient', defs);
  for (let i = 0; i <= 10; i++) mk('stop', {offset: i / 10, 'stop-color': jet(i / 10)}, 'colorbar-stop', lg);
  mk('rect', {x: 1692, y: 1872, width: 9, height: 188, fill: 'url(#jetgrad)', stroke: '#000', 'stroke-width': 2}, 'colorbar', svg);
  const cbl = ['-26', '-27', '-28', '-29', '-30', '-31'];
  cbl.forEach((e, i) => {
    const y = 1872 + i * 188 / 5;
    mk('line', {x1: 1692, y1: y, x2: 1701, y2: y, stroke: '#000', 'stroke-width': 1}, 'colorbar-tick', svg);
    const t = txt(1710, y + 8, '10', 'colorbar-tick-label', {size: 19, anchor: 'start'});
    const sp = document.createElementNS(NS, 'tspan'); sp.setAttribute('font-size', 13); sp.setAttribute('dy', -9); sp.textContent = e; t.appendChild(sp);
  });
})();

// Solar wind velocity
(function () {
  const ax = timePanel(2156, 2345, -700, 0, 'solar-wind-velocity-plot', 'Solar Wind Velocity (GSE Frame)');
  polyline(ax, minutes, swVx, '#ff0000', 'sw-vx-line');
  polyline(ax, minutes, swVy, '#008000', 'sw-vy-line');
  polyline(ax, minutes, swVz, '#0000ff', 'sw-vz-line');
  frame(ax); timeAxis(ax, 'sw-x');
  const yv = range(-700, 0, 100);
  yticks(ax, yv, yv.map(v => fmt(v, 0)), 'sw-y');
  txt(46, 2250, 'Vsw(km/s)', 'sw-y-axis-title', {size: 17, rot: -90});
  legend(1605, 2163, 71, [['Vx', '#ff0000'], ['Vy', '#008000'], ['Vz', '#0000ff']], 'sw-legend', 22.5);
})();

// Plasma beta
(function () {
  const ax = timePanel(2438, 2627, 0, 5, 'plasma-beta-plot', 'Plasma Beta');
  polyline(ax, minutes, betaP, '#0000ff', 'beta-p-line');
  polyline(ax, minutes, betaT, '#008000', 'beta-total-line');
  frame(ax); timeAxis(ax, 'beta-x');
  const yv = range(0, 5, 1);
  yticks(ax, yv, yv.map(v => fmt(v, 0)), 'beta-y');
  txt(76, 2532, '\u03b2p and \u03b2', 'beta-y-axis-title', {size: 16, rot: -90, italic: true, family: 'Liberation Serif, serif'});
  legend(1608, 2444, 68, [['\u03b2p', '#0000ff', 1], ['\u03b2', '#008000', 1]], 'beta-legend', 27);
})();

// Proton density
(function () {
  const ax = timePanel(2723, 2912, 0, 30, 'proton-density-plot', 'Proton Number Density');
  polyline(ax, minutes, np, '#0000ff', 'np-line');
  frame(ax); timeAxis(ax, 'np-x');
  const yv = range(0, 30, 5);
  yticks(ax, yv, yv.map(v => fmt(v, 0)), 'np-y');
  txt(70, 2818, 'Np(#/cc)', 'np-y-axis-title', {size: 17, rot: -90});
})();

// Proton temperature and Te/Tp
(function () {
  const ax = axes(117, 3006, 1683, 3195, 0, 49, 0, 0.5, 'proton-temperature-plot');
  const t = txt(900, 2994, 'Proton Temperature and ', 'proton-temperature-title', {size: 24});
  const sp = document.createElementNS(NS, 'tspan'); sp.setAttribute('font-style', 'italic'); sp.setAttribute('font-family', 'Liberation Serif, serif'); sp.textContent = 'Te/Tp'; t.appendChild(sp);
  const teScaled = teTp.map(v => v / 10);
  polyline(ax, minutes, teScaled, '#ff0000', 'te-tp-line');
  polyline(ax, minutes, tp, '#0000ff', 'tp-line');
  frame(ax); timeAxis(ax, 'temp-x');
  const yv = range(0, 0.5, 0.1);
  yticks(ax, yv, yv.map(v => v.toFixed(1)), 'temp-y');
  yticks(ax, yv, yv.map(v => (v * 10).toFixed(0)), 'te-tp-y', true, '#ff0000');
  txt(58, 3100, 'Tp(10\u2076K)', 'temp-y-axis-title', {size: 17, rot: -90});
  txt(1737, 3100, 'Te/Tp', 'te-tp-y-axis-title', {size: 16, rot: -90, italic: true, fill: '#ff0000', family: 'Liberation Serif, serif'});
  legend(124, 3013, 71, [['Tp', '#0000ff']], 'tp-legend', 22);
  legend(1590, 3013, 86, [['Te/Tp', '#ff0000', 1]], 'te-tp-legend', 22);
})();
</script>
</body></html>
